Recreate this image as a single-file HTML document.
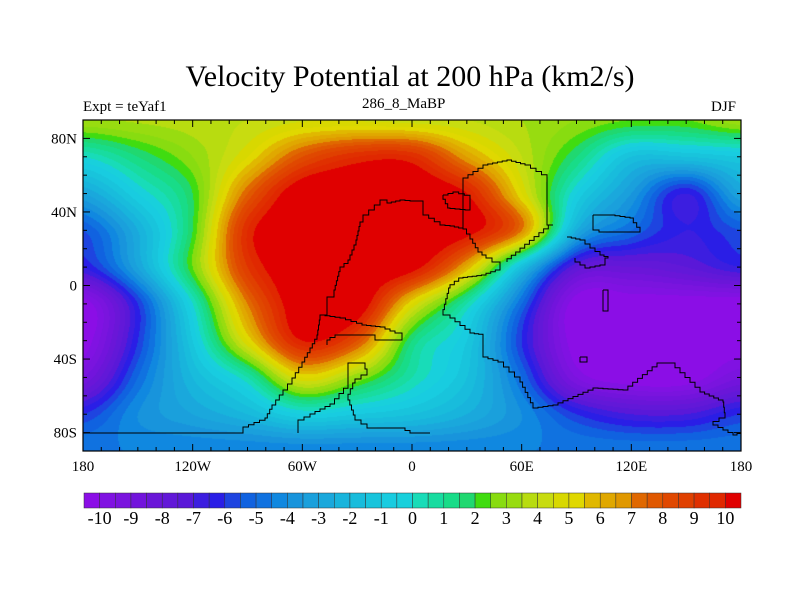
<!DOCTYPE html>
<html><head><meta charset="utf-8"><style>
body{margin:0;background:#fff;}
#wrap{position:relative;width:800px;height:600px;overflow:hidden;font-family:"Liberation Serif",serif;}
.t{position:absolute;white-space:nowrap;color:#000;}
</style></head><body>
<div id="wrap">
<div class="t" style="left:0;width:820px;text-align:center;top:60px;font-size:30px;">Velocity Potential at 200 hPa (km2/s)</div>
<div class="t" style="left:83px;top:99px;font-size:15px;">Expt = teYaf1</div>
<div class="t" style="left:362px;top:96px;font-size:15px;">286_8_MaBP</div>
<div class="t" style="left:711px;top:99px;font-size:15px;">DJF</div>
<canvas id="cv" width="658" height="331" style="position:absolute;left:83px;top:120px;"></canvas>
<svg id="sv" width="800" height="600" style="position:absolute;left:0;top:0;"></svg>
</div>
<script>
const lons=[-180,-150,-120,-90,-60,-30,0,30,60,90,120,150,180];
const lats=[90,70,50,30,10,-10,-30,-50,-70,-90];
const row90=[3.4,3.6,3.8,4,4.4,4.4,4.2,4,3.5,3,2.5,2.5,3.4];
const row70=[0,1.5,3,5,8,9.5,9.5,6.5,4,1.5,-1.5,-1.5,-1];
const row50=[-3,-0.5,2,7.5,11,11,11,10,5,-0.5,-3.5,-6.5,-3];
const row30=[-5.5,-2.5,2,9.5,11,11,11,10.5,7,-2.5,-5,-6.5,-5.5];
const row10=[-6.5,-3,2.5,9,11,11,10.5,6,-1.5,-7.5,-8,-7.5,-6.5];
const rowS10=[-10.5,-6,0,7,11,11,5,0.5,-5,-10.5,-10.5,-10.5,-10.5];
const rowS30=[-10.5,-6,-1,5,10,8,1.5,-1,-6,-10.5,-10.5,-10.5,-10.5];
const rowS50=[-9,-5,-2,0.5,5,3,0.5,-1.5,-5,-9.5,-10.5,-10.5,-9];
const rowS70=[-6,-4,-3,-2,-0.5,-1,-1.5,-2.5,-4,-6,-7,-7,-6];
const rowS90=[-4.5,-4.5,-4.5,-4.5,-4.5,-4.5,-4.5,-4.5,-4.5,-4.5,-4.5,-4.5,-4.5];
const grid=[row90,row70,row50,row30,row10,rowS10,rowS30,rowS50,rowS70,rowS90];
const colors=["#8b0ee6","#8012e2","#7a14de","#7214dc","#6a16d8","#6218d8","#5a18d8","#3c1ee0","#2a1ee6","#1e44e0","#1062e0","#1072e0","#1088e0","#1894dc","#1aa0dc","#1aa8dc","#18b4dc","#18bcdc","#18c4dc","#18cce0","#18d0dc","#18dcb8","#18dca0","#18dc88","#20d870","#40dc10","#88dc10","#98dc10","#b8dc10","#c8dc10","#d8d800","#e0d800","#e0b800","#e0a800","#e09800","#e06800","#e05800","#e04800","#e04000","#e03000","#e02800","#e00000"];
const cbLabels=["-10","-9","-8","-7","-6","-5","-4","-3","-2","-1","0","1","2","3","4","5","6","7","8","9","10"];
const X0=83,X1=741,Y0=120,Y1=451;
const xS=lon=>X0+(lon+180)/360*(X1-X0);
const yS=lat=>Y0+(90-lat)/180*(Y1-Y0);
function cr(p0,p1,p2,p3,t){return 0.5*((2*p1)+(-p0+p2)*t+(2*p0-5*p1+4*p2-p3)*t*t+(-p0+3*p1-3*p2+p3)*t*t*t);}
function g(r,c){r=Math.max(0,Math.min(grid.length-1,r));c=Math.max(0,Math.min(lons.length-1,c));return grid[r][c];}
function field(lon,lat){
 const fc=(lon-lons[0])/30, fr=(lats[0]-lat)/20;
 const c=Math.min(Math.floor(fc),lons.length-2), r=Math.min(Math.floor(fr),lats.length-2);
 const tc=fc-c, tr=fr-r; const rows=[];
 for(let k=-1;k<=2;k++){rows.push(cr(g(r+k,c-1),g(r+k,c),g(r+k,c+1),g(r+k,c+2),tc));}
 return cr(rows[0],rows[1],rows[2],rows[3],tr);
}
const cv=document.getElementById('cv'),ctx=cv.getContext('2d');
const W=cv.width,H=cv.height,img=ctx.createImageData(W,H);
const rgb=colors.map(h=>[parseInt(h.substr(1,2),16),parseInt(h.substr(3,2),16),parseInt(h.substr(5,2),16)]);
for(let y=0;y<H;y++)for(let x=0;x<W;x++){
 const lon=-180+(x+0.5)/W*360, lat=90-(y+0.5)/H*180;
 const v=field(lon,lat);
 let k=Math.floor((v+10)/0.5)+1; k=Math.max(0,Math.min(41,k));
 const i=(y*W+x)*4; img.data[i]=rgb[k][0];img.data[i+1]=rgb[k][1];img.data[i+2]=rgb[k][2];img.data[i+3]=255;}
ctx.putImageData(img,0,0);
const sv=document.getElementById('sv'),NS='http://www.w3.org/2000/svg';
function mk(t,a){const e=document.createElementNS(NS,t);for(const k in a)e.setAttribute(k,a[k]);sv.appendChild(e);return e;}
function txt(s,x,y,anchor,size){const e=mk('text',{x:x,y:y,'text-anchor':anchor,'font-size':size,'font-family':'Liberation Serif, serif'});e.textContent=s;return e;}
const coast=[
"M83,433 L243,433 L243,427 L265,418 L272,405 L283,390 L292,378 L302,362 L310,348 L317,335 L320,315 L327,315 L327,297 L334,290 L340,267 L348,260 L356,240 L360,222 L363,215 L380,200 L387,203 L400,200 L410,201 L423,201 L423,215 L440,225 L450,226 L463,229 L470,239 L478,252 L486,258 L492,262 L500,262 L500,270 L486,275 L463,278 L450,288 L443,315 L450,318 L470,333 L483,335 L483,357 L498,362 L520,382 L533,408 L553,405 L593,388 L623,390 L657,363 L670,363 L700,392 L723,402 L725,418 L713,425 L733,435 L741,432",
"M463,229 L463,178 L483,165 L507,160 L525,165 L547,178 L547,225 L553,225 L520,252 L507,262",
"M320,315 L340,318 L362,325 L380,327 L395,333 L402,340 L380,340 L375,335 L340,335 L330,340 L327,345",
"M298,433 L298,420 L310,414 L330,404 L348,383 L348,363 L363,363 L367,375 L355,383 L348,400 L355,420 L367,428 L400,428 L410,433 L430,433",
"M593,215 L610,215 L630,218 L640,232 L605,232 L593,228 Z",
"M567,237 L580,240 L590,248 L600,255 L608,258 L605,265 L590,268 L580,262 L575,258",
"M603,290 L608,290 L608,311 L603,311 Z",
"M580,357 L587,357 L587,362 L580,362 Z",
"M443,195 L453,192 L470,197 L470,210 L450,208 Z"];
function stair(d){
 const toks=d.match(/[MLZ][^MLZ]*/g);let out='',px=null,py=null,sx,sy;
 toks.forEach(t=>{const c=t[0];const n=t.slice(1).trim().split(/[ ,]+/).map(Number);
  if(c==='M'){px=n[0];py=n[1];sx=px;sy=py;out+='M'+px+','+py;}
  else{const x=c==='Z'?sx:n[0],y=c==='Z'?sy:n[1];
   const dx=x-px,dy=y-py,steps=Math.max(1,Math.round(Math.max(Math.abs(dx),Math.abs(dy))/5));
   for(let s=1;s<=steps;s++){const nx=px+dx*s/steps,ny=py+dy*s/steps;out+=' L'+nx.toFixed(1)+','+(py+dy*(s-1)/steps).toFixed(1)+' L'+nx.toFixed(1)+','+ny.toFixed(1);}
   px=x;py=y;}});
 return out;}
coast.forEach(d=>{const p=mk('path',{d:stair(d),fill:'none',stroke:'#000','stroke-width':1});

});
const fr=mk('rect',{x:X0,y:Y0,width:X1-X0,height:Y1-Y0,fill:'none',stroke:'#000','stroke-width':1.2});


for(let lon=-180;lon<=180;lon+=10){const x=xS(lon),L=lon%60==0?7:4;
 mk('line',{x1:x,y1:Y1,x2:x,y2:Y1-L,stroke:'#000'});mk('line',{x1:x,y1:Y0,x2:x,y2:Y0+L,stroke:'#000'});}
for(let lat=-90;lat<=90;lat+=10){const y=yS(lat),L=lat%40==0?7:4;
 mk('line',{x1:X0,y1:y,x2:X0+L,y2:y,stroke:'#000'});mk('line',{x1:X1,y1:y,x2:X1-L,y2:y,stroke:'#000'});}
const xLab=["180","120W","60W","0","60E","120E","180"];
xLab.forEach((s,i)=>{const t=txt(s,xS(-180+60*i),471,'middle',15);

});
const yLab=["80N","40N","0","40S","80S"];
yLab.forEach((s,i)=>{const t=txt(s,77,yS(80-40*i)+5,'end',15);

});
const cbX0=84,cbX1=741,cbY=493,cbH=15,bw=(cbX1-cbX0)/colors.length;
colors.forEach((c,i)=>{const r=mk('rect',{x:cbX0+i*bw,y:cbY,width:bw,height:cbH,fill:c,stroke:'#333','stroke-width':0.5});

});
cbLabels.forEach((s,i)=>{const t=txt(s,cbX0+(1+2*i)*bw,524,'middle',18);

});
</script>
</body></html>
